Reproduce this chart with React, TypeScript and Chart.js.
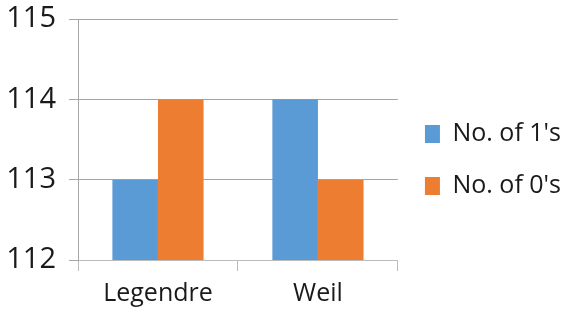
import React, { useEffect, useRef } from "react";
import { Chart, registerables } from "chart.js";

Chart.register(...registerables);

const categories = ["Legendre", "Weil"];
const onesCount = [113, 114];
const zerosCount = [114, 113];
const seriesNames = ["No. of 1's", "No. of 0's"];
const yTicks = [112, 113, 114, 115];

const FONT = "'Open Sans', 'Liberation Sans', sans-serif";
const TEXT = "#1a1a1a";
const GRID = "#a6a6a6";

export default function App() {
  const canvasRef = useRef<HTMLCanvasElement>(null);

  useEffect(() => {
    const ctx = canvasRef.current;
    if (!ctx) return;
    const chart = new Chart(ctx, {
      type: "bar",
      data: {
        labels: categories,
        datasets: [
          {
            label: seriesNames[0],
            data: onesCount,
            backgroundColor: "#5B9BD5",
            categoryPercentage: 0.57,
            barPercentage: 1,
          },
          {
            label: seriesNames[1],
            data: zerosCount,
            backgroundColor: "#ED7D31",
            categoryPercentage: 0.57,
            barPercentage: 1,
          },
        ],
      },
      options: {
        responsive: false,
        animation: false,
        layout: { padding: { top: 0, right: -9, left: 0, bottom: 0 } },
        plugins: {
          tooltip: { enabled: false },
          legend: {
            position: "right",
            maxWidth: 220,
            labels: {
              boxWidth: 15,
              boxHeight: 18,
              padding: 27,
              color: TEXT,
              font: { family: FONT, size: 25 },
            },
          },
        },
        scales: {
          x: {
            afterFit: (scale: any) => {
              scale.height = 60;
            },
            grid: {
              offset: true,
              drawOnChartArea: false,
              drawTicks: true,
              tickLength: 11,
              color: "#bcbcbc",
            },
            border: { color: "#bcbcbc" },
            ticks: {
              color: TEXT,
              font: { family: FONT, size: 25 },
              padding: 8,
            },
          },
          y: {
            min: yTicks[0],
            max: yTicks[yTicks.length - 1],
            afterBuildTicks: (scale: any) => {
              scale.ticks = yTicks.map((v) => ({ value: v }));
            },
            afterFit: (scale: any) => {
              scale.width = 78;
              scale.paddingTop = 19;
              scale.paddingBottom = 0;
            },
            grid: {
              color: GRID,
              tickLength: 9,
            },
            border: { color: GRID },
            ticks: {
              color: TEXT,
              font: { family: FONT, size: 29 },
              padding: 13,
            },
          },
        },
      },
    });
    return () => chart.destroy();
  }, []);

  return (
    <div style={{ position: "fixed", left: 0, top: 0, width: 562, height: 320, background: "#fff" }}>
      <canvas ref={canvasRef} width={562} height={320} />
    </div>
  );
}
